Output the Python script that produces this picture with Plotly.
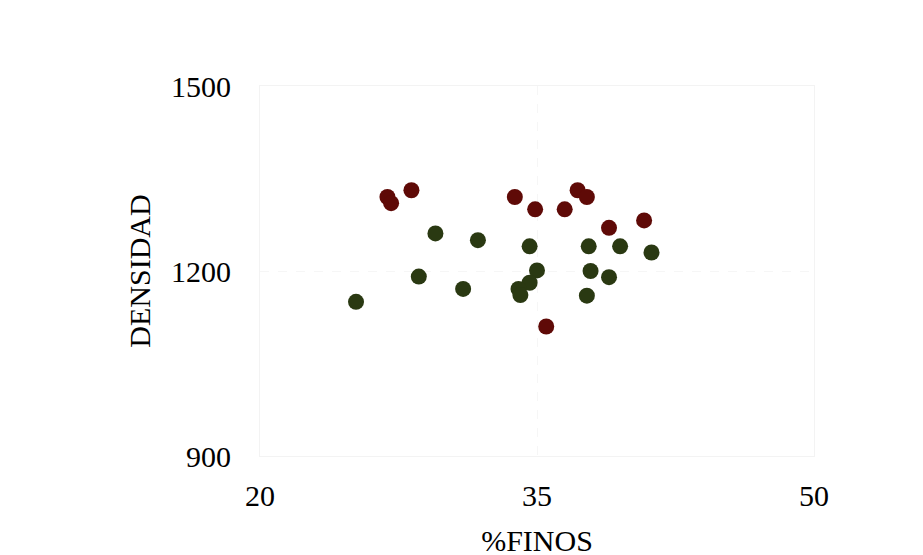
import plotly.graph_objects as go

# Red group
red_finos = [26.9, 27.1, 28.2, 33.8, 34.9, 36.5, 37.2, 37.7, 38.9, 40.8, 35.5]
red_dens = [1320, 1310, 1331, 1320, 1300, 1300, 1331, 1320, 1270, 1282, 1110]

# Green group
green_finos = [29.5, 31.8, 34.6, 37.8, 39.5, 41.2, 28.6, 31.0, 25.2, 35.0, 34.6, 34.0, 34.1, 37.9, 38.9, 37.7]
green_dens = [1261, 1250, 1240, 1240, 1240, 1230, 1191, 1171, 1150, 1201, 1181, 1171, 1161, 1200, 1190, 1160]

x_ticks = [20, 35, 50]
y_ticks = [900, 1200, 1500]

font_family = "Liberation Serif"

fig = go.Figure()
fig.add_trace(go.Scatter(x=green_finos, y=green_dens, mode="markers",
                         marker=dict(color="#2a3912", size=16, line=dict(width=0)),
                         showlegend=False))
fig.add_trace(go.Scatter(x=red_finos, y=red_dens, mode="markers",
                         marker=dict(color="#5f0a07", size=16, line=dict(width=0)),
                         showlegend=False))

fig.update_layout(
    width=923, height=555,
    margin=dict(l=252, r=117, t=78, b=92),
    paper_bgcolor="white", plot_bgcolor="white",
    font=dict(family=font_family, color="black", size=30),
    xaxis=dict(range=[20, 50], tickvals=x_ticks, ticktext=[str(v) for v in x_ticks],
               showgrid=True, gridcolor="#f6f6f6", griddash="dash",
               zeroline=False, showline=True, linecolor="#f3f3f3", mirror=True,
               ticks="", ticklabelstandoff=13,
               title=dict(text="%FINOS", font=dict(size=30), standoff=18)),
    yaxis=dict(range=[900, 1500], tickvals=y_ticks, ticktext=[str(v) for v in y_ticks],
               showgrid=True, gridcolor="#f6f6f6", griddash="dash",
               zeroline=False, showline=True, linecolor="#f3f3f3", mirror=True,
               ticks="", ticklabelstandoff=22,
               title=dict(text="DENSIDAD", font=dict(size=30), standoff=11)),
)

fig.write_html("out.html")
